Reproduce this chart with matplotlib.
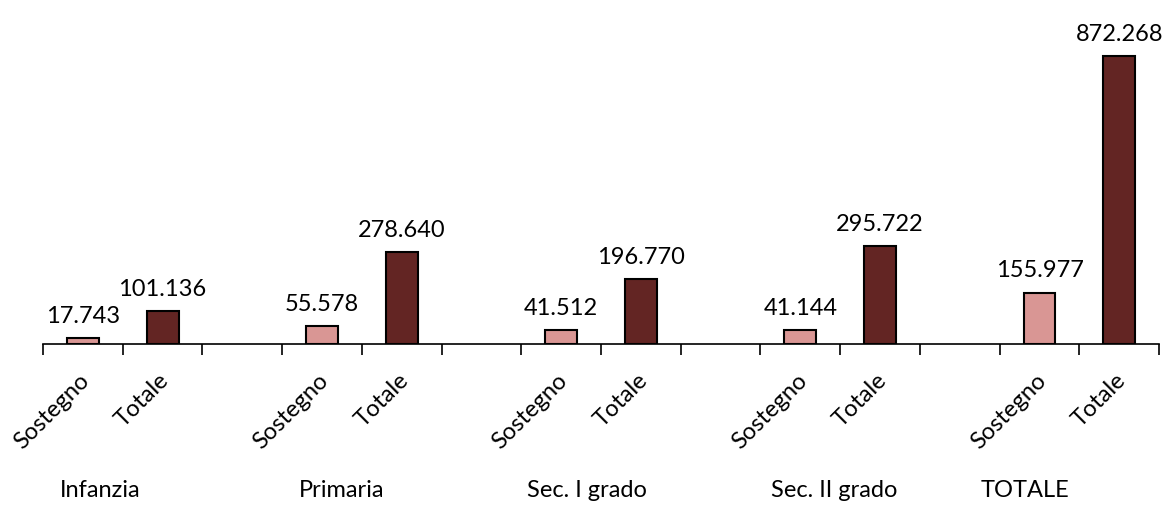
import numpy as np
import matplotlib
matplotlib.use('Agg')
import matplotlib.pyplot as plt

plt.rcParams['font.family'] = ['Lato', 'DejaVu Sans']

# data
groups = ['Infanzia', 'Primaria', 'Sec. I grado', 'Sec. II grado', 'TOTALE']
sostegno = [17.743, 55.578, 41.512, 41.144, 155.977]
totale = [101.136, 278.640, 196.770, 295.722, 872.268]
sub_labels = ['Sostegno', 'Totale']

# layout
n_cat = 14
label_x = [0.22, 3.24, 6.32, 9.42, 11.82]
c_sost = '#D99694'
c_tot = '#632523'
fs = 17

fig = plt.figure(figsize=(11.63, 5.08), dpi=100)
ax = fig.add_axes([0.037, 0.3228, 0.9596, 0.6496])

x_s = np.arange(len(groups)) * 3
x_t = x_s + 1
bw = 0.4
bs = ax.bar(x_s, sostegno, bw, color=c_sost, edgecolor='black', linewidth=1.5, zorder=3)
bt = ax.bar(x_t, totale, bw, color=c_tot, edgecolor='black', linewidth=1.5, zorder=3)

def fmt(v):
    return '{:.3f}'.format(v)

for bars, vals in ((bs, sostegno), (bt, totale)):
    for b, v in zip(bars, vals):
        ax.annotate(fmt(v), (b.get_x() + b.get_width() / 2, v),
                    xytext=(0, 8), textcoords='offset points',
                    ha='center', va='bottom', fontsize=fs)

ax.set_xlim(-0.5, n_cat - 0.5)
ax.set_ylim(0, 1000)
for s in ['top', 'right', 'left']:
    ax.spines[s].set_visible(False)
ax.spines['bottom'].set_linewidth(1.2)
ax.set_yticks([])

# tick marks at category boundaries
ax.set_xticks(np.arange(n_cat + 1) - 0.5)
ax.set_xticklabels([])
ax.tick_params(axis='x', direction='out', length=8, width=1.2)

# rotated sub labels
tr = ax.get_xaxis_transform()
for xs, xt in zip(x_s, x_t):
    for xx, lab in ((xs, sub_labels[0]), (xt, sub_labels[1])):
        ax.text(xx + 0.04, -0.1, lab, transform=tr, rotation=45,
                rotation_mode='anchor', ha='right', va='center', fontsize=fs)

for lx, g in zip(label_x, groups):
    ax.text(lx, -0.445, g, transform=tr, ha='center', va='center', fontsize=fs)

fig.savefig('out.png', dpi=100)
